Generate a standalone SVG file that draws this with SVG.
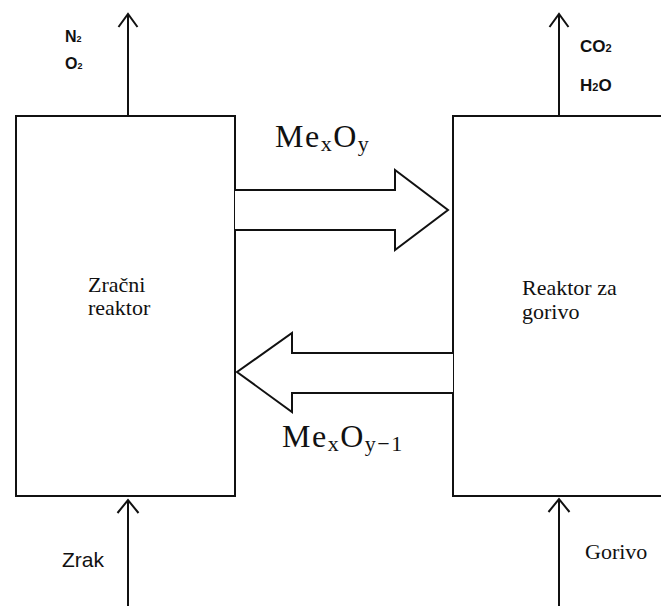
<svg xmlns="http://www.w3.org/2000/svg" width="661" height="606" viewBox="0 0 661 606">
<style>
.box{fill:#fff;stroke:#111;stroke-width:2}
.ln{fill:none;stroke:#111;stroke-width:2}
.blk{fill:#fff;stroke:#111;stroke-width:2;stroke-linejoin:miter}
.serif{font-family:"Liberation Serif","Times New Roman",serif;fill:#111}
.sans{font-family:"Liberation Sans",Arial,sans-serif;fill:#111}
.bold{font-family:"Liberation Sans",Arial,sans-serif;font-weight:bold;fill:#111}
.chem{font-family:"Liberation Serif","Times New Roman",serif;fill:#111;font-size:32px;letter-spacing:1.5px}
</style>
<rect width="661" height="606" fill="#fff"/>
<g id="zracni-reaktor">
<rect class="box" x="16" y="116" width="219" height="380"/>
<text class="serif" font-size="22" x="88" y="292">Zračni</text>
<text class="serif" font-size="22" x="88" y="315">reaktor</text>
</g>
<g id="reaktor-za-gorivo">
<rect class="box" x="453" y="116" width="230" height="380"/>
<text class="serif" font-size="22" x="522" y="295">Reaktor za</text>
<text class="serif" font-size="22" x="522" y="319">gorivo</text>
</g>
<g id="connectors">
<line class="ln" x1="128" y1="116" x2="128" y2="14"/>
<polyline class="ln" points="118.5,27 128,14 137.5,27"/>
<line class="ln" x1="559" y1="116" x2="559" y2="14"/>
<polyline class="ln" points="549.5,27 559,14 568.5,27"/>
<line class="ln" x1="128" y1="606" x2="128" y2="500"/>
<polyline class="ln" points="117.5,513 128,500 138.5,513"/>
<line class="ln" x1="559" y1="606" x2="559" y2="499"/>
<polyline class="ln" points="548.5,512 559,499 569.5,512"/>
<polyline class="blk" points="235,190 395,190 395,170 448,210 395,250 395,230 235,230"/>
<polyline class="blk" points="453,353 292,353 292,333 237,372 292,412 292,393 453,393"/>
</g>
<g id="labels">
<text class="bold" font-size="16" x="65" y="42">N<tspan font-size="9">2</tspan></text>
<text class="bold" font-size="16" x="65" y="69">O<tspan font-size="9">2</tspan></text>
<text class="bold" font-size="17" x="580" y="52">CO<tspan font-size="11">2</tspan></text>
<text class="bold" font-size="17" x="580" y="91">H<tspan font-size="11">2</tspan>O</text>
<text class="chem" x="275" y="147">Me<tspan dy="4" font-size="22">x</tspan><tspan dy="-4">O</tspan><tspan dy="4" font-size="22">y</tspan></text>
<text class="chem" x="282" y="447">Me<tspan dy="4" font-size="22">x</tspan><tspan dy="-4">O</tspan><tspan dy="4" font-size="22">y−1</tspan></text>
<text class="sans" font-size="21" x="62" y="567">Zrak</text>
<text class="serif" font-size="22" x="585" y="559">Gorivo</text>
</g>
</svg>
